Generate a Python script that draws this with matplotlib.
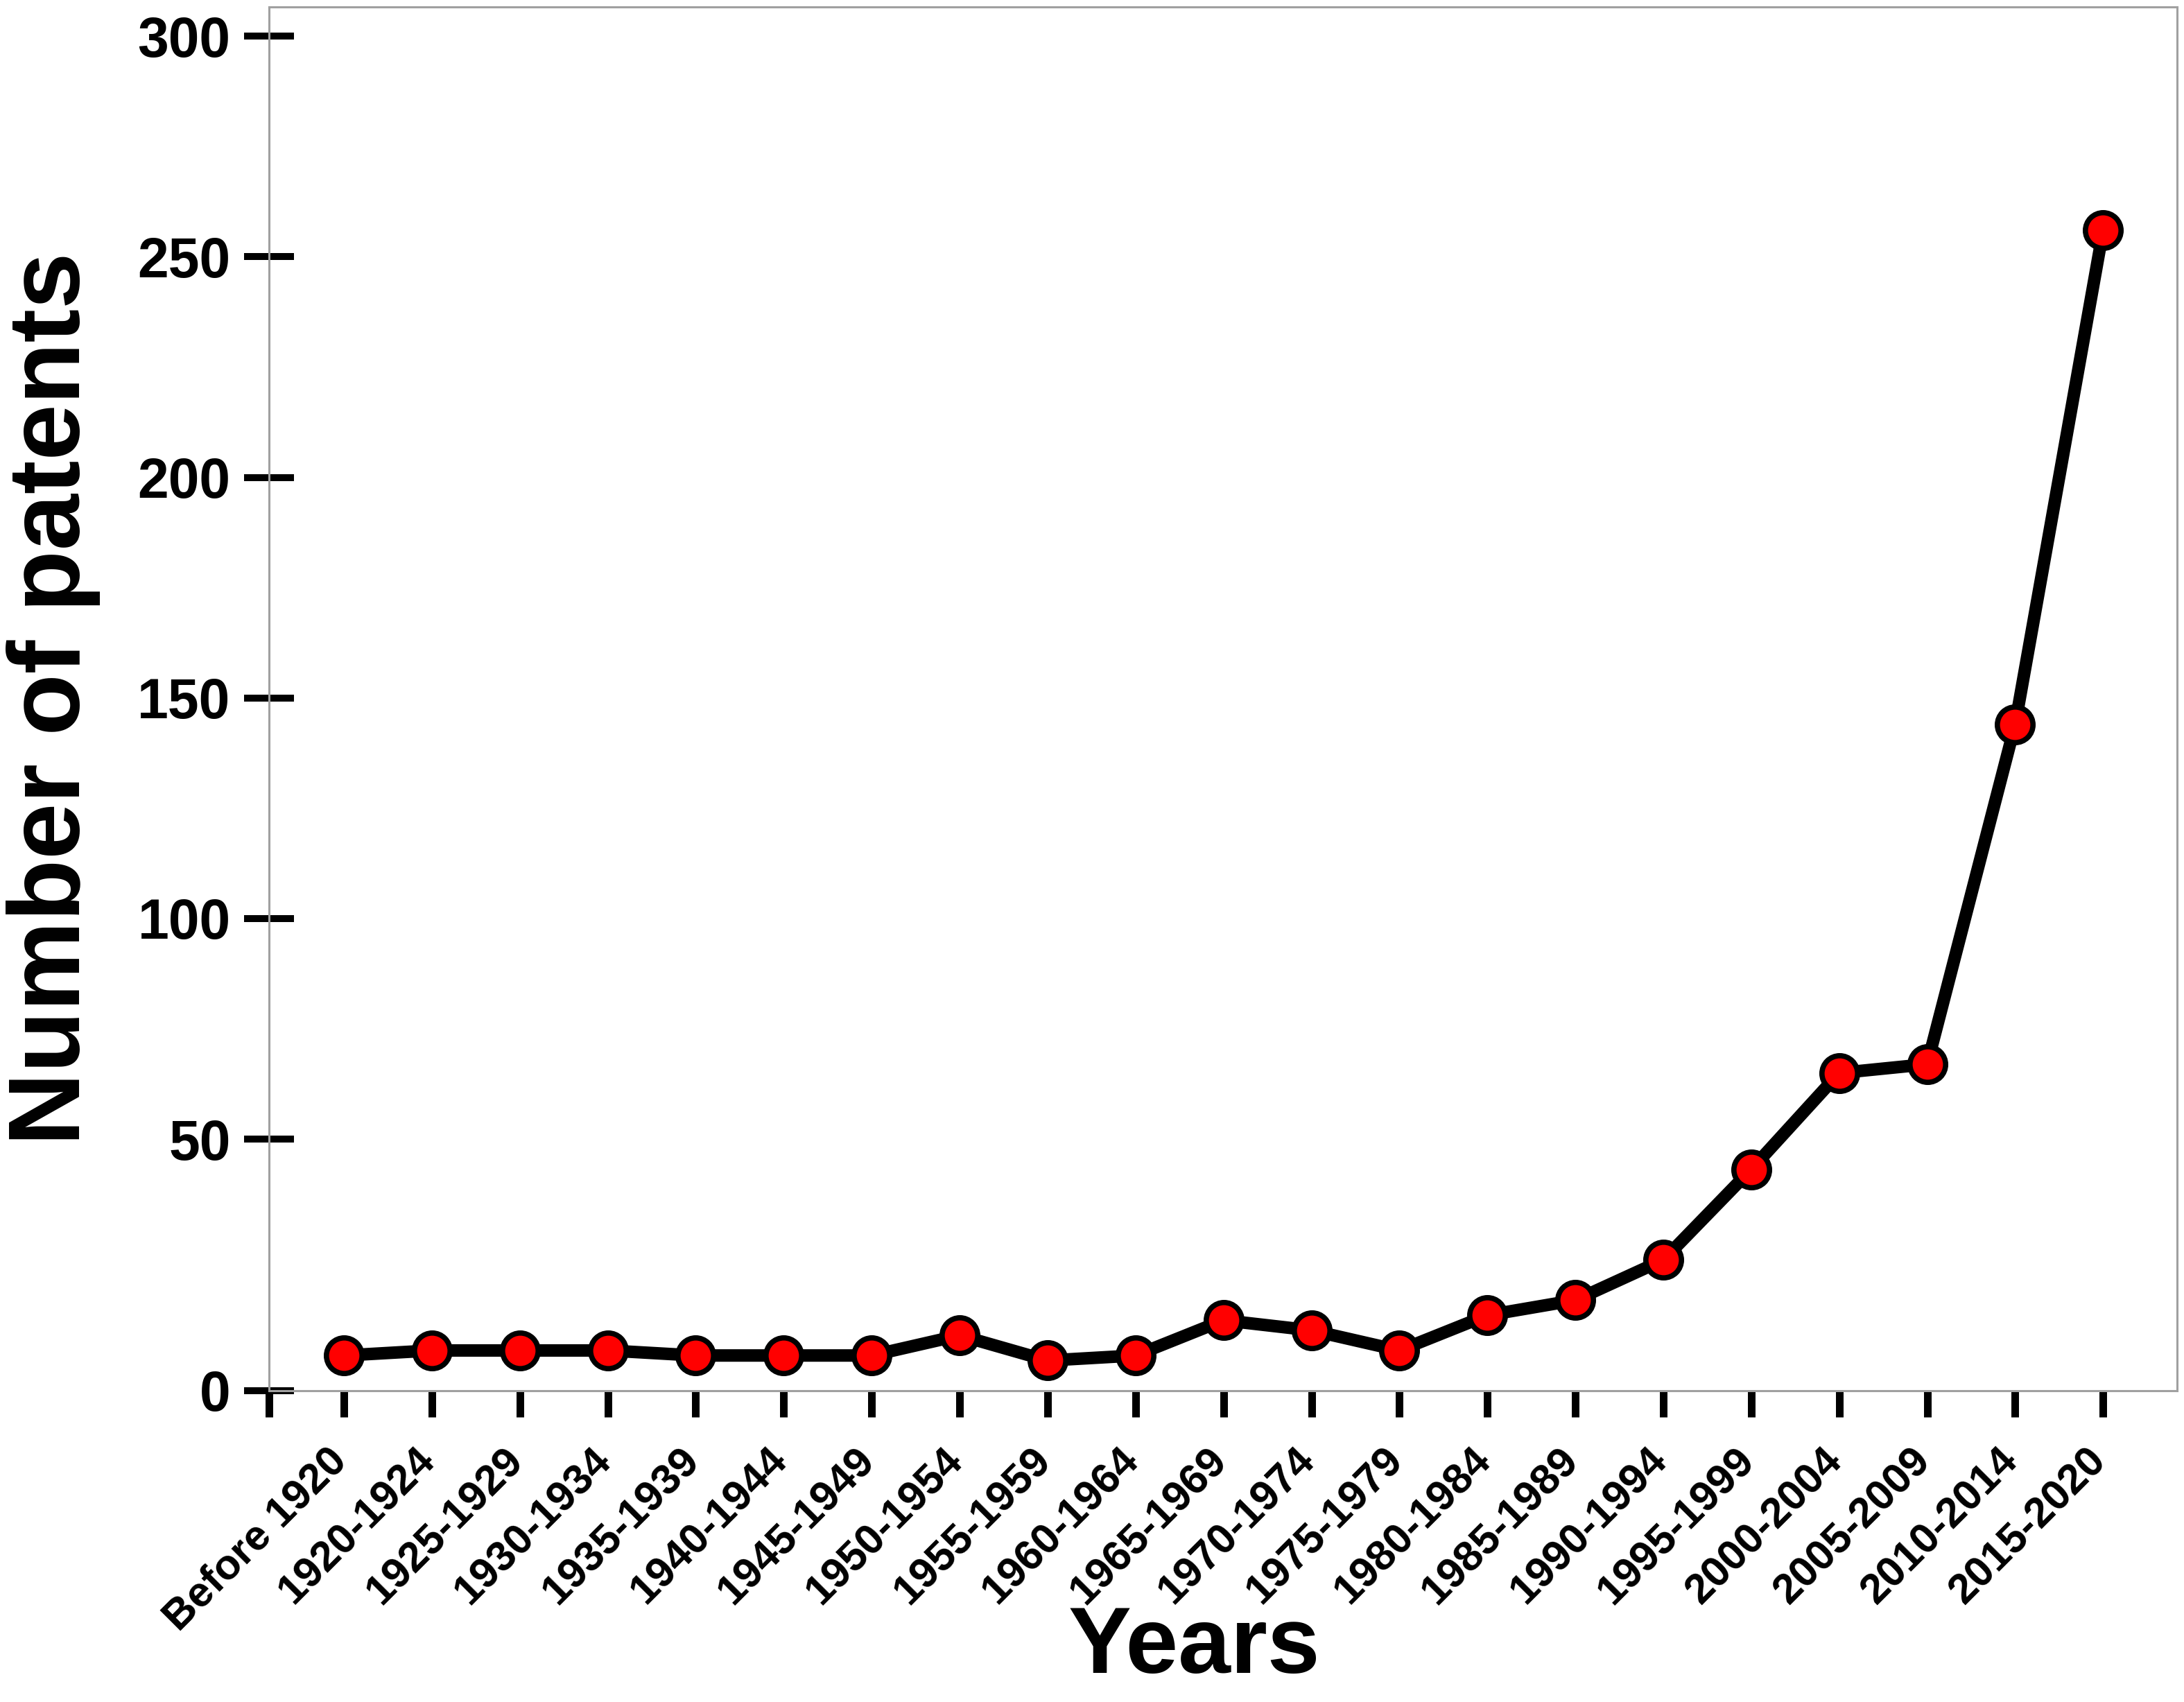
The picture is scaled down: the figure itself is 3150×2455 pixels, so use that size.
import numpy as np
import matplotlib
matplotlib.use("Agg")
import matplotlib.pyplot as plt
import matplotlib.transforms as mtransforms

periods = ['Before 1920', '1920-1924', '1925-1929', '1930-1934', '1935-1939',
           '1940-1944', '1945-1949', '1950-1954', '1955-1959', '1960-1964',
           '1965-1969', '1970-1974', '1975-1979', '1980-1984', '1985-1989',
           '1990-1994', '1995-1999', '2000-2004', '2005-2009', '2010-2014',
           '2015-2020']
patents = [7, 8, 8, 8, 7, 7, 7, 11, 6, 7, 14, 12, 8, 15, 18, 26, 44, 65, 67, 144, 256]
y_ticks = [0, 50, 100, 150, 200, 250, 300]

plt.rcParams['font.family'] = ['Liberation Sans', 'DejaVu Sans']
plt.rcParams['font.weight'] = 'bold'

# the first 50 units are drawn a bit taller than the rest in the original
k = 1.14


def fwd(y):
    y = np.asarray(y, dtype=float)
    return np.where(y < 50, y * k, 50 * k + (y - 50))


def inv(v):
    v = np.asarray(v, dtype=float)
    return np.where(v < 50 * k, v / k, v - 50 * k + 50)


fig = plt.figure(figsize=(31.5, 24.55), dpi=100)
ax = fig.add_axes([0.1232, 0.1829, 0.8736, 0.8130])

x = np.arange(len(periods))
ax.plot(x, patents, color='black', lw=13, zorder=2)
ax.plot(x, patents, 'o', ms=37, mfc='#ff0000', mec='black', mew=5.5, zorder=3)

ax.set_yscale('function', functions=(fwd, inv))
ax.set_ylim(0, 306.6)
ax.set_xlim(-0.85, len(periods) - 1 + 0.84)

ax.set_yticks(y_ticks)
ax.set_yticklabels([str(t) for t in y_ticks], fontsize=58, fontweight='bold')
ax.tick_params(axis='y', direction='inout', length=52, width=7.2, pad=14, color='black')

ax.set_xticks([-0.85] + list(x))
ax.set_xticklabels([''] + periods, fontsize=44, fontweight='bold',
                   rotation=45, ha='right', va='top', rotation_mode='anchor')
ax.tick_params(axis='x', direction='out', length=27, width=7.9, pad=25, color='black')
shift = mtransforms.ScaledTranslation(-0.24, 0, fig.dpi_scale_trans)
for lab in ax.get_xticklabels():
    lab.set_transform(lab.get_transform() + shift)

for s in ax.spines.values():
    s.set_color('#a0a0a0')
    s.set_linewidth(2.2)

ax.set_ylabel('Number of patents', fontsize=105, fontweight='bold', labelpad=38)
ax.set_xlabel('Years', fontsize=98, fontweight='bold')
ax.xaxis.set_label_coords(0.485, -0.155)

fig.savefig('out.png', dpi=100, facecolor='white')
